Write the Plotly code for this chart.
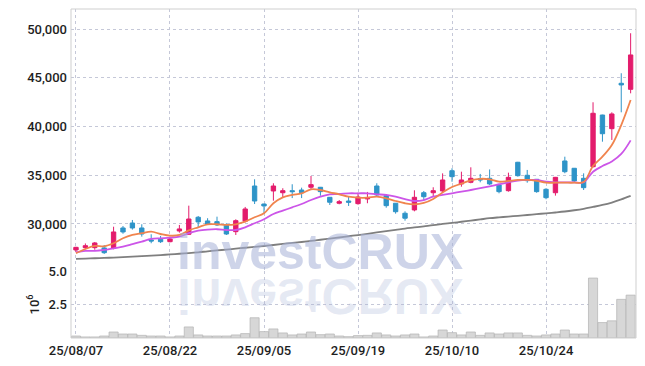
import plotly.graph_objects as go

dates = ["25/08/07","25/08/08","25/08/11","25/08/12","25/08/13","25/08/14","25/08/18","25/08/19","25/08/20","25/08/21",
         "25/08/22","25/08/25","25/08/26","25/08/27","25/08/28","25/08/29","25/09/01","25/09/02","25/09/03","25/09/04",
         "25/09/05","25/09/08","25/09/09","25/09/10","25/09/11","25/09/12","25/09/15","25/09/16","25/09/17","25/09/18",
         "25/09/19","25/09/22","25/09/23","25/09/24","25/09/25","25/09/26","25/09/29","25/09/30","25/10/01","25/10/02",
         "25/10/10","25/10/13","25/10/14","25/10/15","25/10/16","25/10/17","25/10/20","25/10/21","25/10/22","25/10/23",
         "25/10/24","25/10/27","25/10/28","25/10/29","25/10/30","25/10/31","25/11/03","25/11/04","25/11/05","25/11/06"]

open_ = [27330, 27570, 27570, 27540, 27500, 29590, 30100, 29590, 28360, 28430,
         28180, 29280, 28940, 30690, 30310, 30240, 29900, 29210, 30280, 33900,
         32050, 33390, 33210, 33420, 33490, 33770, 33770, 32740, 32130, 32360,
         32090, 32570, 33900, 32910, 32130, 31100, 31440, 33210, 33210, 33390,
         35470, 34110, 34280, 34650, 34690, 34000, 33420, 36340, 35000, 34590,
         33560, 33210, 36470, 35720, 34690, 35885, 41190, 39790, 44450, 43830]
high = [27650, 28000, 28150, 27840, 29720, 29790, 30410, 29970, 28940, 28770,
        28700, 29900, 31880, 30820, 30590, 30750, 30070, 30480, 31750, 34590,
        32080, 34180, 33670, 34080, 33730, 34930, 33800, 32770, 32460, 32770,
        33210, 33290, 34180, 32940, 32150, 31300, 33460, 33390, 33770, 35200,
        35720, 35370, 35820, 35140, 35600, 34050, 35270, 36380, 35550, 34620,
        33670, 34830, 36910, 35750, 35200, 42500, 41220, 41470, 45480, 49590]
low = [27100, 27430, 27350, 26920, 27400, 29000, 29420, 28700, 28020, 28050,
       28120, 29110, 28870, 29660, 29900, 29790, 28870, 28870, 30170, 32050,
       31030, 32390, 32740, 32660, 32660, 33590, 32900, 31950, 32020, 31850,
       31980, 32130, 32840, 31670, 31060, 30340, 31300, 32460, 32800, 33250,
       34340, 33830, 34180, 34280, 34000, 33150, 33320, 34860, 34240, 33210,
       32540, 32910, 35210, 34240, 33490, 35800, 38450, 38630, 41470, 43420]
close = [27600, 27770, 28050, 27050, 29180, 29180, 29590, 28970, 28250, 28180,
         28460, 29490, 30510, 30210, 29970, 29900, 28970, 30340, 31540, 32360,
         31850, 33900, 33420, 33320, 33210, 34040, 33320, 32230, 32290, 32230,
         32770, 32670, 32980, 31880, 31260, 30590, 32740, 32800, 33420, 34520,
         34860, 34520, 34690, 34520, 34110, 33320, 34790, 34960, 34450, 33320,
         32700, 34790, 35370, 34420, 33730, 41370, 39270, 41300, 44280, 47360]

ma5 = [26990, 27430, 27740, 27710, 28020, 28530, 28870, 29050, 29210, 28970,
       28800, 28870, 29350, 29660, 29970, 29970, 29900, 29970, 30240, 30690,
       31100, 32130, 32740, 32980, 33150, 33560, 33490, 33250, 33050, 32800,
       32700, 32700, 32800, 32640, 32360, 32130, 32020, 32160, 32570, 33230,
       33800, 34140, 34490, 34640, 34590, 34340, 34420, 34520, 34520, 34420,
       34240, 34240, 34240, 34240, 34310, 35950, 36910, 38110, 40160, 42730]
ma10 = [27090, 27230, 27230, 27330, 27500, 27670, 27920, 28180, 28460, 28530,
        28590, 28700, 29050, 29310, 29420, 29460, 29380, 29380, 29660, 30070,
        30480, 31030, 31370, 31710, 32050, 32460, 32800, 33050, 33080, 33150,
        33150, 33150, 33050, 32980, 32800, 32540, 32360, 32460, 32800, 32980,
        33150, 33320, 33490, 33670, 33870, 34080, 34280, 34450, 34520, 34520,
        34340, 34280, 34280, 34280, 34280, 35370, 35950, 36420, 37190, 38590]
ma60 = [26410, 26440, 26480, 26510, 26550, 26590, 26640, 26690, 26740, 26810,
        26870, 26940, 27010, 27090, 27190, 27280, 27370, 27460, 27560, 27650,
        27740, 27840, 27950, 28050, 28150, 28260, 28380, 28490, 28610, 28740,
        28860, 28990, 29130, 29260, 29390, 29530, 29640, 29760, 29890, 30000,
        30110, 30230, 30350, 30470, 30590, 30680, 30760, 30840, 30920, 31010,
        31090, 31180, 31280, 31410, 31560, 31750, 31950, 32200, 32520, 32880]

volume = [150000, 80000, 80000, 150000, 450000, 300000, 300000, 200000, 150000, 150000,
          80000, 150000, 830000, 230000, 150000, 150000, 150000, 230000, 330000, 1520000,
          480000, 680000, 380000, 230000, 300000, 450000, 250000, 300000, 150000, 100000,
          180000, 200000, 380000, 230000, 150000, 230000, 300000, 80000, 150000, 600000,
          400000, 230000, 450000, 200000, 380000, 300000, 380000, 380000, 200000, 150000,
          230000, 300000, 600000, 300000, 300000, 4500000, 1160000, 1290000, 2900000, 3220000]

price_ticks = [30000, 35000, 40000, 45000, 50000]
vol_ticks = [2500000, 5000000]
vol_ticktext = ["2.5", "5.0"]
x_tick_idx = [0, 10, 20, 30, 40, 50]

RED = "#e31c6c"
BLUE = "#2e94c8"
GRID = "#c5c8d8"
FONT = dict(family="Roboto", size=13, color="#1e1e1e", weight=500)

fig = go.Figure()
fig.add_trace(go.Candlestick(
    x=dates, open=open_, high=high, low=low, close=close,
    increasing=dict(line=dict(color=RED, width=1), fillcolor=RED),
    decreasing=dict(line=dict(color=BLUE, width=1), fillcolor=BLUE),
    whiskerwidth=0, xaxis="x", yaxis="y", showlegend=False, hoverinfo="skip"))
fig.add_trace(go.Scatter(x=dates, y=ma60, mode="lines", line=dict(color="#7f7f7f", width=1.8, shape="spline"),
                         xaxis="x", yaxis="y", showlegend=False, hoverinfo="skip"))
fig.add_trace(go.Scatter(x=dates, y=ma10, mode="lines", line=dict(color="#cc55e8", width=1.8, shape="spline"),
                         xaxis="x", yaxis="y", showlegend=False, hoverinfo="skip"))
fig.add_trace(go.Scatter(x=dates, y=ma5, mode="lines", line=dict(color="#f0844e", width=1.8, shape="spline"),
                         xaxis="x", yaxis="y", showlegend=False, hoverinfo="skip"))
fig.add_trace(go.Bar(x=dates, y=volume, marker=dict(color="#d7d7d7", line=dict(color="#b3b3b3", width=0.7)),
                     xaxis="x", yaxis="y2", showlegend=False, hoverinfo="skip"))

split = (338 - 271) / 329.0

fig.update_layout(
    width=645, height=366,
    margin=dict(l=71, r=9, t=9, b=28, autoexpand=False),
    paper_bgcolor="white", plot_bgcolor="white",
    font=FONT,
    boxgap=0.34, bargap=0.03,
    xaxis=dict(type="category", anchor="y2", range=[-0.53, 59.57], automargin=False,
               tickvals=[dates[i] for i in x_tick_idx], ticktext=[dates[i] for i in x_tick_idx],
               showgrid=True, gridcolor=GRID, griddash="dot", gridwidth=1,
               showline=False, zeroline=False, ticks="", tickfont=FONT, ticklabelstandoff=3,
               rangeslider=dict(visible=False), fixedrange=True),
    yaxis=dict(domain=[split, 1], range=[25170, 52080], tickvals=price_ticks, tickformat=",", automargin=False,
               showgrid=True, gridcolor=GRID, griddash="dot", gridwidth=1, ticklabelstandoff=3,
               zeroline=False, showline=False, ticks="", tickfont=FONT, fixedrange=True),
    yaxis2=dict(domain=[0, split], range=[0, 5030000], tickvals=vol_ticks, ticktext=vol_ticktext, automargin=False,
                showgrid=True, gridcolor=GRID, griddash="dot", gridwidth=1, ticklabelstandoff=3,
                zeroline=False, showline=False, ticks="", tickfont=FONT, fixedrange=True,
                title=dict(text="10<sup>6</sup>", font=FONT, standoff=6)),
    shapes=[dict(type="rect", xref="paper", yref="paper", x0=0, x1=1, y0=0, y1=1,
                 line=dict(color="#cfcfcf", width=1), fillcolor="rgba(0,0,0,0)", layer="above")],
    annotations=[
        dict(text="investCRUX", xref="paper", yref="paper", x=(320 - 71) / 565.0, y=(338 - 252) / 329.0,
             xanchor="center", yanchor="middle", showarrow=False,
             font=dict(family="Liberation Sans", size=50, color="rgba(165,177,215,0.55)", weight="bold")),
        dict(text="investCRUX", xref="paper", yref="paper", x=(320 - 71) / 565.0, y=(338 - 296) / 329.0,
             xanchor="center", yanchor="middle", showarrow=False,
             font=dict(family="Liberation Sans", size=50, color="rgba(165,177,215,0.28)", weight="bold")),
    ],
)

post = """
document.documentElement.style.margin = '0';
document.body.style.margin = '0';
document.body.style.overflow = 'hidden';
var gd = document.getElementById('{plot_id}');
function flip(){
  var g = gd.querySelector('g.annotation[data-index="1"] text.annotation-text');
  if (g) { g.style.transformBox = 'fill-box'; g.style.transformOrigin = 'center'; g.style.transform = 'scaleY(-1)'; }
}
flip();
gd.on && gd.on('plotly_afterplot', flip);
"""

fig.write_html("out.html", config={"displayModeBar": False, "staticPlot": True}, post_script=post)
